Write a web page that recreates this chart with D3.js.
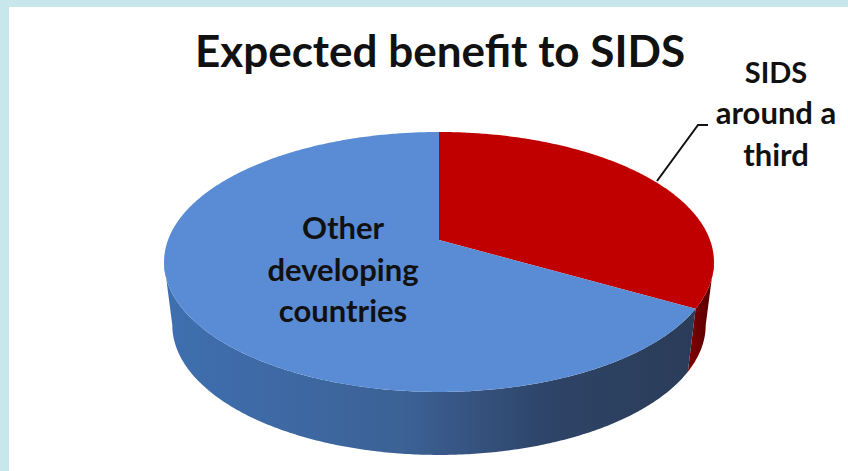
<!DOCTYPE html>
<html>
<head>
<meta charset="utf-8">
<script src="https://cdn.jsdelivr.net/npm/d3@7"></script>
<style>
  html, body { margin: 0; padding: 0; background: #c8e7ed; }
  svg { display: block; }
  text { font-family: Lato, "Open Sans", sans-serif; font-weight: 700; fill: #111; text-anchor: middle; }
</style>
</head>
<body>
<svg id="chart"></svg>
<script>
const categories = ['SIDS', 'Other developing countries'];
const shares = [33.3, 66.7];
const topColors = ['#c00000', '#5a8cd5'];
const sideStops = [
  [['0%', '#7c0000'], ['100%', '#4f0000']],
  [['0%', '#3f6fb0'], ['45%', '#3c6296'], ['72%', '#2e4468'], ['100%', '#2a3c58']]
];
const titleText = 'Expected benefit to SIDS';
const sidsLabel = ['SIDS', 'around a', 'third'];
const otherLabel = ['Other', 'developing', 'countries'];

const width = 848, height = 471;
const svg = d3.select('#chart').attr('width', width).attr('height', height);

svg.append('rect')
   .attr('x', 9).attr('y', 7)
   .attr('width', width - 9).attr('height', height - 7)
   .attr('fill', '#fff');

// pie seen at a tilt: the centre of the disc sits above the middle of the ellipse
const cx = 439, cy = 240;
const persp = -0.169, yScale = 85.7, xScale = 271;

function project(angle) {
  const u = Math.sin(angle), v = -Math.cos(angle);
  const w = 1 + persp * v;
  return [cx + xScale * u / w, (cy + yScale * v) / w];
}
function projectBottom(angle) {
  const p = project(angle);
  return [cx + (p[0] - cx) * 0.97, p[1] + 63];
}

const arcs = d3.pie().sort(null)(shares);
const line = d3.line();

function samples(a0, a1) {
  const n = Math.ceil((a1 - a0) / 0.01);
  return d3.range(n + 1).map(i => a0 + (a1 - a0) * i / n);
}

const defs = svg.append('defs');
sideStops.forEach((stops, i) => {
  const g = defs.append('linearGradient')
                .attr('id', `side${i}`)
                .attr('gradientUnits', 'userSpaceOnUse')
                .attr('x1', i == 0 ? 692 : 164).attr('x2', i == 0 ? 714 : 694)
                .attr('y1', 0).attr('y2', 0);
  stops.forEach(s => g.append('stop').attr('offset', s[0]).attr('stop-color', s[1]));
});

// only the front of the rim shows, between the two points where the outline turns
const frontStart = Math.acos(persp);
const frontEnd = 2 * Math.PI - frontStart;

arcs.forEach((d, i) => {
  const a0 = Math.max(d.startAngle, frontStart), a1 = Math.min(d.endAngle, frontEnd);
  if (a1 <= a0) return;
  const angles = samples(a0, a1);
  const pts = angles.map(project).concat(angles.slice().reverse().map(projectBottom));
  svg.append('path')
     .attr('d', line(pts) + 'Z')
     .attr('fill', `url(#side${i})`);
});

arcs.forEach((d, i) => {
  const pts = [[cx, cy]].concat(samples(d.startAngle, d.endAngle).map(project));
  svg.append('path')
     .attr('class', 'slice')
     .attr('data-name', categories[i])
     .attr('d', line(pts) + 'Z')
     .attr('fill', topColors[i]);
});

svg.append('text')
   .attr('x', 440).attr('y', 67)
   .style('font-size', '44px')
   .text(titleText);

sidsLabel.forEach((t, i) => {
  svg.append('text')
     .attr('x', 776).attr('y', [83, 124, 166][i])
     .style('font-size', i == 0 ? '29px' : '31px')
     .text(t);
});

otherLabel.forEach((t, i) => {
  svg.append('text')
     .attr('x', 343).attr('y', 239 + i * 41.5)
     .style('font-size', '31px')
     .text(t);
});

svg.append('path')
   .attr('d', line([[657, 181], [698, 125], [708, 125]]))
   .attr('fill', 'none')
   .attr('stroke', '#111')
   .attr('stroke-width', 2);
</script>
</body>
</html>
